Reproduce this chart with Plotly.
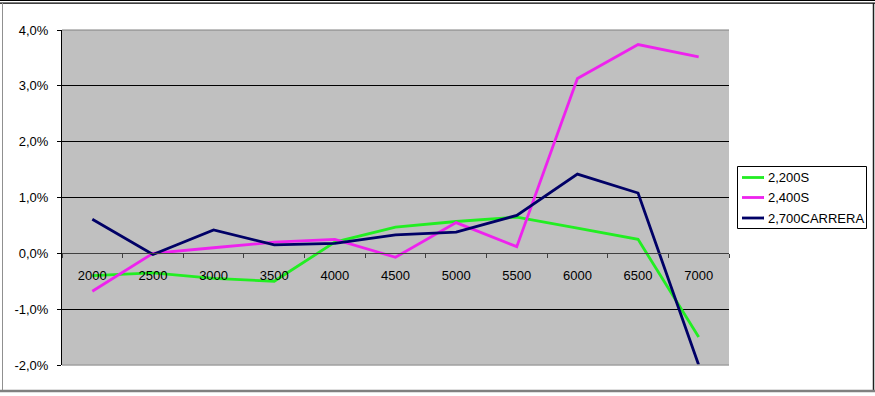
import plotly.graph_objects as go

categories = ["2000", "2500", "3000", "3500", "4000", "4500", "5000", "5500", "6000", "6500", "7000"]
s2200 = [-0.40, -0.35, -0.45, -0.50, 0.20, 0.47, 0.57, 0.65, 0.45, 0.25, -1.50]
s2400 = [-0.68, 0.00, 0.10, 0.20, 0.25, -0.07, 0.55, 0.12, 3.13, 3.74, 3.52]
s2700 = [0.61, -0.02, 0.42, 0.15, 0.18, 0.33, 0.38, 0.68, 1.42, 1.08, -2.00]
series_names = ["2,200S", "2,400S", "2,700CARRERA"]
series_colors = ["#22EE22", "#EE22EE", "#000066"]
y_ticks = [-2, -1, 0, 1, 2, 3, 4]
y_ticktext = ["-2,0%", "-1,0%", "0,0%", "1,0%", "2,0%", "3,0%", "4,0%"]

W, H = 875, 396
L, R, T, B = 62, 729, 30, 365
PW, PH = R - L, B - T

def px(x):
    return (x - L) / PW

def py(y):
    return (B - y) / PH

FONT = "Liberation Sans, Arial, sans-serif"

fig = go.Figure()
for name, vals, col in zip(series_names, [s2200, s2400, s2700], series_colors):
    fig.add_trace(go.Scatter(x=categories, y=vals, name=name, mode="lines",
                             line=dict(color=col, width=2.8), cliponaxis=True,
                             showlegend=False))

shapes = [
    dict(type="line", xref="paper", yref="paper", x0=0, x1=1, y0=1, y1=1,
         line=dict(color="#808080", width=1)),
    dict(type="line", xref="paper", yref="paper", x0=0, x1=1, y0=0, y1=0,
         line=dict(color="#A0A0A0", width=1.5)),
    dict(type="line", xref="paper", yref="paper", x0=px(0), x1=px(W), y0=py(0.5), y1=py(0.5),
         line=dict(color="#000000", width=1)),
    dict(type="line", xref="paper", yref="paper", x0=px(0), x1=px(W), y0=py(3.2), y1=py(3.2),
         line=dict(color="#000000", width=1.2)),
    dict(type="line", xref="paper", yref="paper", x0=px(2.5), x1=px(2.5), y0=py(3), y1=py(391),
         line=dict(color="#909090", width=1)),
    dict(type="line", xref="paper", yref="paper", x0=px(873.5), x1=px(873.5), y0=py(3), y1=py(391),
         line=dict(color="#202020", width=1.5)),
    dict(type="line", xref="paper", yref="paper", x0=px(0), x1=px(W), y0=py(391), y1=py(391),
         line=dict(color="#808080", width=2.5)),
    # legend box
    dict(type="rect", xref="paper", yref="paper", x0=px(737.5), x1=px(866.5), y0=py(166.5), y1=py(228.5),
         line=dict(color="#000000", width=1), fillcolor="#FFFFFF", layer="above"),
]

annotations = []
row_y = [177.5, 197.5, 218]
for name, col, ry in zip(series_names, series_colors, row_y):
    shapes.append(dict(type="line", xref="paper", yref="paper", x0=px(742), x1=px(764),
                       y0=py(ry), y1=py(ry), line=dict(color=col, width=2.8), layer="above"))
    annotations.append(dict(text=name, xref="paper", yref="paper", x=px(766), y=py(ry),
                            xanchor="left", yanchor="middle", showarrow=False,
                            font=dict(family=FONT, size=13, color="#000000")))

fig.update_layout(
    width=W, height=H,
    margin=dict(l=L, r=W - R, t=T, b=H - B, pad=0, autoexpand=False),
    paper_bgcolor="#FFFFFF",
    plot_bgcolor="#C0C0C0",
    font=dict(family=FONT, size=13, color="#000000"),
    showlegend=False,
    shapes=shapes,
    annotations=annotations,
    xaxis=dict(type="category", categoryorder="array", categoryarray=categories,
               range=[-0.5, 10.5], anchor="free", position=py(253),
               showgrid=False, zeroline=False, showline=True, linecolor="#404040", linewidth=1,
               ticks="outside", ticklen=4, tickcolor="#404040", tickson="boundaries",
               ticklabelstandoff=10,
               tickfont=dict(family=FONT, size=13, color="#000000")),
    yaxis=dict(range=[-2, 4], tickvals=y_ticks, ticktext=y_ticktext,
               showgrid=True, gridcolor="#000000", gridwidth=1,
               zeroline=False, showline=True, linecolor="#000000", linewidth=1,
               ticks="outside", ticklen=4, tickcolor="#000000",
               ticklabelstandoff=6,
               tickfont=dict(family=FONT, size=13, color="#000000")),
)

fig.write_html("out.html")
